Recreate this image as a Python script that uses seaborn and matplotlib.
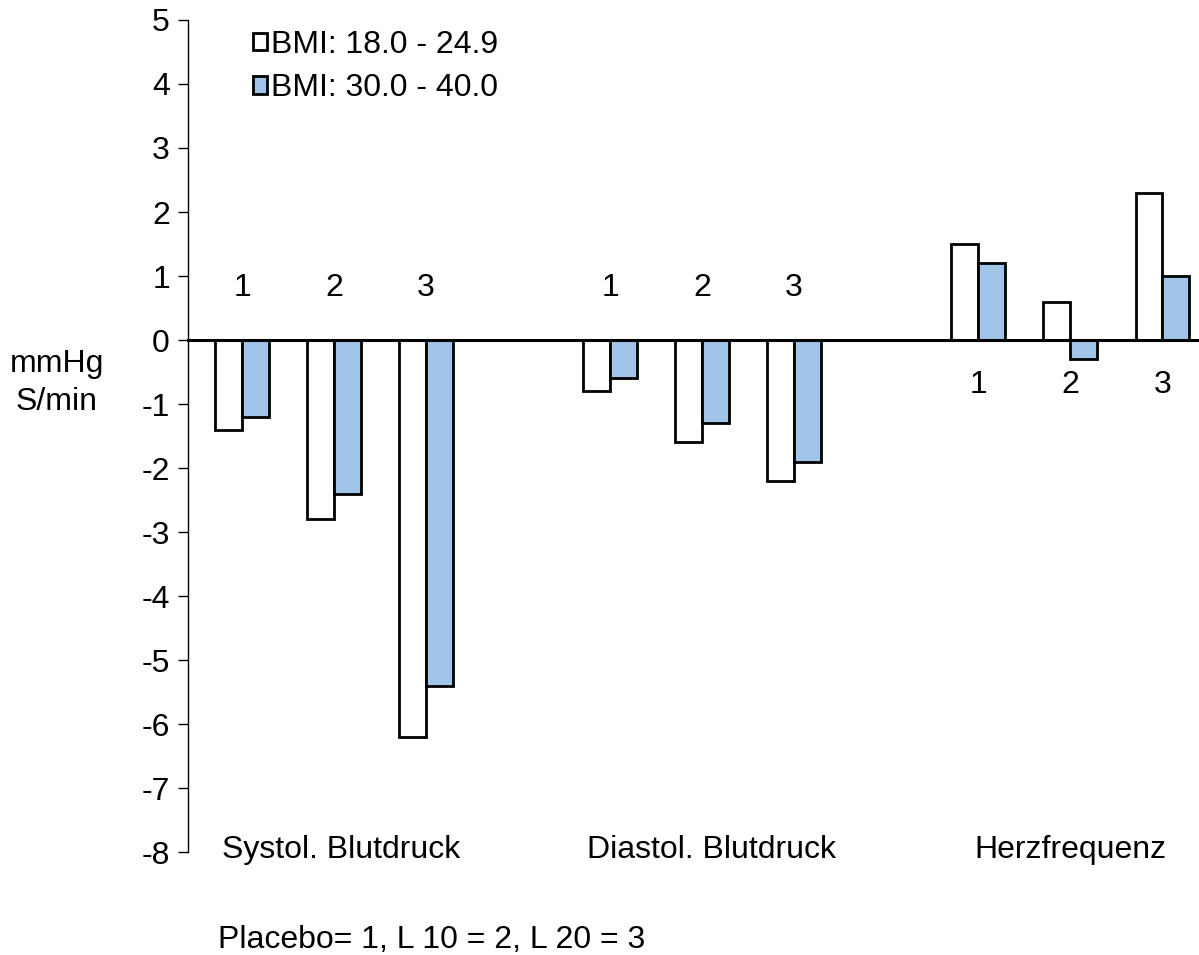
import pandas as pd
import seaborn as sns
import matplotlib.pyplot as plt

# slots: three doses per measure, with empty slots between the measures
slots = ["S1", "S2", "S3", "g1", "D1", "D2", "D3", "g2", "H1", "H2", "H3"]
data_slots = ["S1", "S2", "S3", "D1", "D2", "D3", "H1", "H2", "H3"]
dose_labels = ["1", "2", "3", "1", "2", "3", "1", "2", "3"]
bmi_normal = [-1.4, -2.8, -6.2, -0.8, -1.6, -2.2, 1.5, 0.6, 2.3]
bmi_obese = [-1.2, -2.4, -5.4, -0.6, -1.3, -1.9, 1.2, -0.3, 1.0]
groups = ["BMI: 18.0 - 24.9", "BMI: 30.0 - 40.0"]
measures = ["Systol. Blutdruck", "Diastol. Blutdruck", "Herzfrequenz"]
footer = "Placebo= 1, L 10 = 2, L 20 = 3"

df = pd.DataFrame({
    "slot": data_slots * 2,
    "value": bmi_normal + bmi_obese,
    "group": [groups[0]] * len(data_slots) + [groups[1]] * len(data_slots),
})

sns.set_style("white")
plt.rcParams["font.family"] = ["Liberation Sans", "DejaVu Sans"]
plt.rcParams["axes.unicode_minus"] = False
plt.rcParams["text.color"] = "black"
plt.rcParams["ytick.color"] = "black"
plt.rcParams["axes.edgecolor"] = "black"

fs = 23

fig = plt.figure(figsize=(11.99, 9.55), dpi=100)
ax = fig.add_axes([188 / 1199, 1 - 852 / 955, 1 - 188 / 1199, (852 - 20) / 955])

sns.barplot(data=df, x="slot", y="value", hue="group", order=slots,
            hue_order=groups, palette=["white", "#a0c3e8"], width=0.58,
            edgecolor="black", linewidth=2.0, saturation=1, ax=ax)

ax.set_ylim(-8, 5)
ax.set_xlim(-0.587, 10.4)
ax.set_yticks(range(-8, 6))
ax.tick_params(axis="y", direction="out", length=7, width=1, labelsize=fs,
               left=True, pad=6, colors="black")
ax.set_xticks([])
ax.set_xlabel("")
ax.set_ylabel("")
for s in ["top", "right"]:
    ax.spines[s].set_visible(False)
ax.spines["left"].set_linewidth(1)
ax.spines["bottom"].set_position(("data", 0))
ax.spines["bottom"].set_linewidth(2.2)
ax.spines["bottom"].set_zorder(5)

# dose numbers
pos = [slots.index(s) for s in data_slots]
for p, lab, s in zip(pos, dose_labels, data_slots):
    y = -0.7 if s.startswith("H") else 0.81
    ax.text(p, y, lab, ha="center", va="center", fontsize=fs)

label_x = [1.08, 5.1, 9.0]
for x, m in zip(label_x, measures):
    ax.text(x, -7.97, m, ha="center", va="center", fontsize=fs)

fig.text(57 / 1199, 1 - 383 / 955, "mmHg\nS/min", ha="center", va="center",
         fontsize=fs, linespacing=1.35)
fig.text(218 / 1199, 1 - 940 / 955, footer, ha="left", va="center", fontsize=fs)

handles, labels = ax.get_legend_handles_labels()
ax.legend(handles, labels, loc="upper left", bbox_to_anchor=(237 / 1199, 1 - 14 / 955),
          bbox_transform=fig.transFigure, frameon=False, fontsize=fs,
          handlelength=0.45, handleheight=0.45, handletextpad=0.12,
          labelspacing=0.42, borderpad=0)

fig.savefig("out.png", dpi=100)
